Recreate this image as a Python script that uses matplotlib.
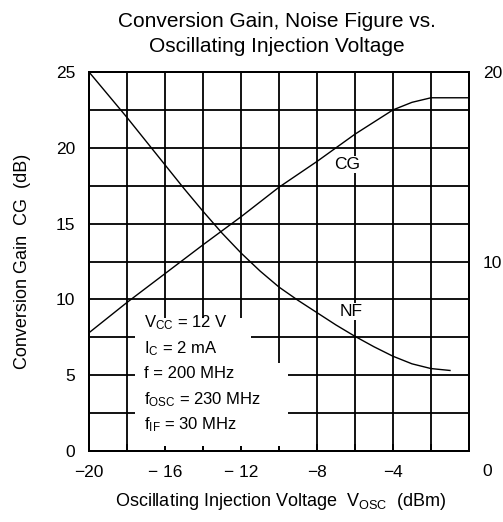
import matplotlib
matplotlib.use("Agg")
import matplotlib.pyplot as plt
import numpy as np

plt.rcParams['font.family'] = ['Liberation Sans', 'DejaVu Sans']
plt.rcParams['mathtext.fontset'] = 'custom'
plt.rcParams['mathtext.rm'] = 'Liberation Sans'
plt.rcParams['mathtext.it'] = 'Liberation Sans'

# oscillating injection voltage (dBm)
cg_x = [-20, -18, -16, -14, -12, -10, -8, -6, -4, -3, -2, 0]
cg_y = [7.8, 9.8, 11.7, 13.6, 15.45, 17.4, 19.1, 20.9, 22.5, 23.0, 23.3, 23.3]   # conversion gain (dB)

nf_x = [-20, -19, -18, -17, -16, -15, -14, -13, -12, -11, -10, -9, -8,
        -7, -6, -5, -4, -3, -2, -1]
nf_y = [20.0, 18.8, 17.6, 16.35, 15.1, 13.85, 12.65, 11.5, 10.45, 9.5, 8.65,
        7.95, 7.3, 6.65, 6.05, 5.5, 5.0, 4.6, 4.35, 4.25]                     # noise figure (dB)

xticks = [-20, -16, -12, -8, -4, 0]
xticklabels = ['\u221220', '\u2212 16', '\u2212 12', '\u22128', '\u22124', '']
yticks = [0, 5, 10, 15, 20, 25]
y2ticks = [10, 20]

conditions = [r'$\mathrm{V_{CC}}$ = 12 V',
              r'$\mathrm{I_C}$ = 2 mA',
              'f = 200 MHz',
              r'$\mathrm{f_{OSC}}$ = 230 MHz',
              r'$\mathrm{f_{IF}}$ = 30 MHz']

fig = plt.figure(figsize=(5.03, 5.22), dpi=100)
ax = fig.add_axes([89/503, 71/522, 380/503, 379/522])
ax.set_xlim(-20, 0)
ax.set_ylim(0, 25)

# grid drawn by hand so the condition box can blank part of it
for gx in np.arange(-20, 0.1, 2):
    ax.axvline(gx, color='black', lw=1.3, zorder=1)
for gy in np.arange(0, 25.1, 2.5):
    ax.axhline(gy, color='black', lw=1.3, zorder=1)

# white area behind the measurement conditions
ax.fill([-17.6, -17.6, -11.5, -11.5, -9.55, -9.55],
        [0.3, 8.8, 8.8, 5.8, 5.8, 0.3], color='white', zorder=2, lw=0)

ax.plot(cg_x, cg_y, color='black', lw=1.0, zorder=3)

ax.set_xticks(xticks)
ax.set_xticklabels(xticklabels)
ax.set_xticks(np.arange(-18, 0, 4), minor=True)
ax.set_yticks(yticks)
ax.tick_params(axis='x', which='both', direction='in', length=5, width=1.2,
               pad=10, labelsize=12.5)
ax.tick_params(axis='y', direction='in', length=0, pad=10, labelsize=12.5)
ax.annotate('0', xy=(0, 0), xycoords='data', xytext=(13, -9.5),
            textcoords='offset points', ha='center', va='top', fontsize=12.5,
            annotation_clip=False)

for s in ax.spines.values():
    s.set_linewidth(1.4)

ax.set_ylabel('Conversion Gain  CG  (dB)', fontsize=13)
ax.yaxis.set_label_coords(-0.152, 0.5)
ax.set_xlabel(r'Oscillating Injection Voltage  $\mathrm{V_{OSC}}$  (dBm)', fontsize=13)
ax.xaxis.set_label_coords(0.503, -0.105)

for i, line in enumerate(conditions):
    ax.text(-17.1, 8.45 - i * 1.68, line, ha='left', va='center',
            fontsize=12, zorder=4)

ax.text(-6.4, 18.9, 'CG', ha='center', va='center', fontsize=12.5, zorder=4,
        bbox=dict(facecolor='white', edgecolor='none', pad=1))
ax.text(-6.2, 9.2, 'NF', ha='center', va='center', fontsize=12.5, zorder=4,
        bbox=dict(facecolor='white', edgecolor='none', pad=1))

ax2 = ax.twinx()
ax2.set_ylim(0, 20)
ax2.plot(nf_x, nf_y, color='black', lw=1.0, zorder=3)
ax2.set_yticks(y2ticks)
ax2.tick_params(axis='y', length=0, pad=10, labelsize=12.5)
for s in ax2.spines.values():
    s.set_linewidth(1.4)

fig.text(277/503, 1 - 27/522, 'Conversion Gain, Noise Figure vs.',
         ha='center', va='baseline', fontsize=15)
fig.text(277/503, 1 - 52/522, 'Oscillating Injection Voltage',
         ha='center', va='baseline', fontsize=15)

fig.savefig('out.png', dpi=100)
